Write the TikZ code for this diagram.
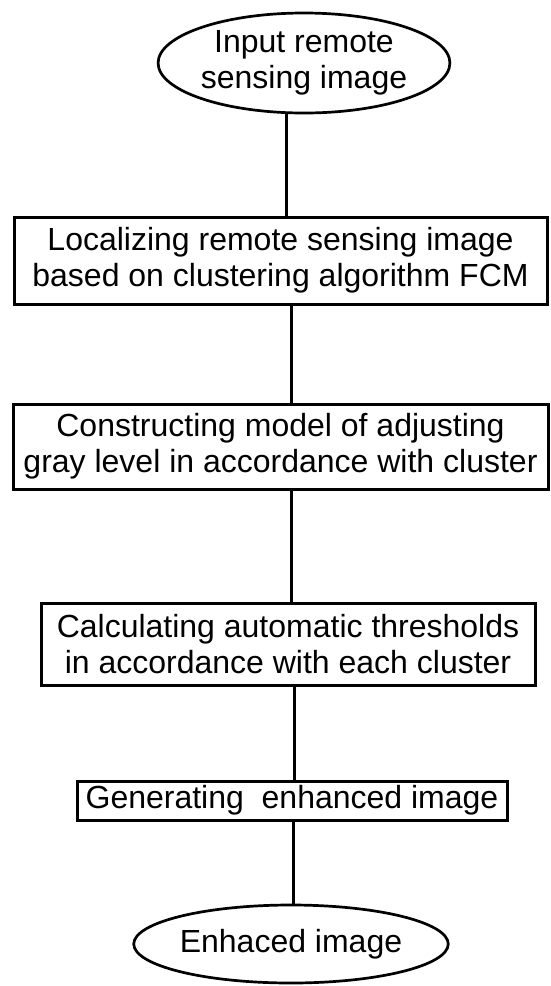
\documentclass[tikz,border=0pt]{standalone}
\usepackage{fontspec}
\setmainfont{Liberation Sans}
\usepackage{tikz}
\usetikzlibrary{shapes.geometric}
\newcommand{\flowfont}{\fontsize{32}{36}\selectfont}
\tikzstyle{stepbox} = [draw, line width=3pt, inner sep=0pt, align=center, font=\flowfont]
\tikzstyle{terminal} = [draw, ellipse, line width=2.7pt, inner sep=0pt, align=center, font=\flowfont]
\tikzstyle{link} = [line width=3pt]

\begin{document}
\begin{tikzpicture}[x=1pt, y=-1pt]
\useasboundingbox (0,0) rectangle (550,986);
\node (inputImg) [terminal, minimum width=262pt, minimum height=100pt] at (304,63) {Input remote\\sensing image};
\node (localize) [stepbox, minimum width=533pt, minimum height=87pt] at (280.5,260.5) {Localizing remote sensing image\\based on clustering algorithm FCM};
\node (grayModel) [stepbox, minimum width=535pt, minimum height=85pt] at (280.5,446.5) {Constructing model of adjusting\\gray level in accordance with cluster};
\node (thresholds) [stepbox, minimum width=494pt, minimum height=82pt] at (288,644) {Calculating automatic thresholds\\in accordance with each cluster};
\node (generate) [stepbox, minimum width=430pt, minimum height=39pt] at (292,800.5) {Generating\ \ enhanced image};
\node (outputImg) [terminal, minimum width=282pt, minimum height=78pt] at (291,944) {Enhaced image};
\draw[link] ([xshift=5.5pt]localize.north) -- ([xshift=5.5pt]localize.north |- inputImg.south);
\draw[link] ([xshift=10.5pt]localize.south) -- ([xshift=10.5pt]localize.south |- grayModel.north);
\draw[link] ([xshift=10.5pt]grayModel.south) -- ([xshift=10.5pt]grayModel.south |- thresholds.north);
\draw[link] ([xshift=6pt]thresholds.south) -- ([xshift=6pt]thresholds.south |- generate.north);
\draw[link] ([xshift=1pt]generate.south) -- ([xshift=1pt]generate.south |- outputImg.north);
\end{tikzpicture}
\end{document}
